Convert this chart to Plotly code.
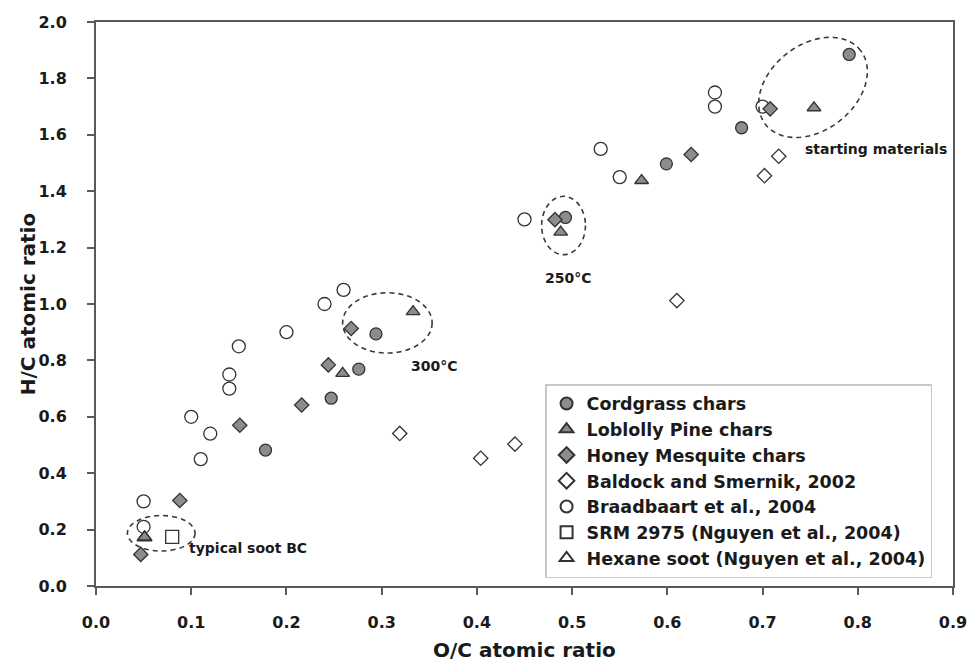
import numpy as np
import plotly.graph_objects as go

# ---------------- data ----------------
cord_x = [0.178, 0.247, 0.276, 0.294, 0.493, 0.599, 0.678, 0.791]
cord_y = [0.482, 0.666, 0.769, 0.894, 1.307, 1.497, 1.625, 1.885]

pine_x = [0.051, 0.259, 0.333, 0.488, 0.573, 0.754]
pine_y = [0.174, 0.754, 0.973, 1.255, 1.438, 1.696]

mesq_x = [0.047, 0.088, 0.151, 0.216, 0.244, 0.268, 0.482, 0.625, 0.708]
mesq_y = [0.112, 0.303, 0.570, 0.642, 0.784, 0.913, 1.299, 1.530, 1.692]

bald_x = [0.319, 0.404, 0.440, 0.610, 0.702, 0.717]
bald_y = [0.541, 0.453, 0.503, 1.012, 1.455, 1.524]

braad_x = [0.05, 0.05, 0.10, 0.11, 0.12, 0.14, 0.14, 0.15, 0.20, 0.24, 0.26,
           0.45, 0.53, 0.55, 0.65, 0.65, 0.70]
braad_y = [0.30, 0.21, 0.60, 0.45, 0.54, 0.70, 0.75, 0.85, 0.90, 1.00, 1.05,
           1.30, 1.55, 1.45, 1.75, 1.70, 1.70]

srm_x = [0.080]
srm_y = [0.174]

hex_x = [0.051]
hex_y = [0.172]

x_ticks = [0.0, 0.1, 0.2, 0.3, 0.4, 0.5, 0.6, 0.7, 0.8, 0.9]
y_ticks = [0.0, 0.2, 0.4, 0.6, 0.8, 1.0, 1.2, 1.4, 1.6, 1.8, 2.0]

# ---------------- style ----------------
FONT = "DejaVu Sans, Arial, sans-serif"
GRAY = "#8c8c8c"
EDGE = "#333333"
TXT = "#1a1a1a"

fig = go.Figure()

def add(name, xs, ys, symbol, size, fill, rank, lw=1.3):
    fig.add_trace(go.Scatter(
        x=xs, y=ys, mode="markers", name=name, legendrank=rank,
        marker=dict(symbol=symbol, size=size, color=fill,
                    line=dict(color=EDGE, width=lw)),
    ))

add("Braadbaart et al., 2004", braad_x, braad_y, "circle", 13, "white", 5)
add("Baldock and Smernik, 2002", bald_x, bald_y, "diamond", 11, "white", 4)
add("Cordgrass chars", cord_x, cord_y, "circle", 12, GRAY, 1)
add("Loblolly Pine chars", pine_x, pine_y, "triangle-up", 12, GRAY, 2)
add("Honey Mesquite chars", mesq_x, mesq_y, "diamond", 11, GRAY, 3)
add("SRM 2975 (Nguyen et al., 2004)", srm_x, srm_y, "square", 13, "white", 6)
fig.add_trace(go.Scatter(
    x=hex_x, y=hex_y, mode="markers", name="Hexane soot (Nguyen et al., 2004)",
    legendrank=7,
    marker=dict(symbol="triangle-up-open", size=13, color=EDGE,
                line=dict(color=EDGE, width=1.3)),
))

# ---------------- dashed ellipses ----------------
dash_line = dict(color="#3a3a3a", width=1.6, dash="5px,4px")
for (x0, x1, y0, y1) in [(0.033, 0.104, 0.124, 0.250),
                         (0.259, 0.353, 0.826, 1.040),
                         (0.468, 0.514, 1.175, 1.382)]:
    fig.add_shape(type="circle", xref="x", yref="y", x0=x0, x1=x1, y0=y0, y1=y1,
                  line=dash_line)

# tilted ellipse ("starting materials"), built in pixel-proportional units
px_per_x = 955.0   # pixels per unit of O/C
px_per_y = 281.5   # pixels per unit of H/C
cx, cy = 0.753, 1.768
a_px, b_px, theta = 60.3, 42.8, np.deg2rad(37.5)
t = np.linspace(0, 2 * np.pi, 121)
ex = a_px * np.cos(t) * np.cos(theta) - b_px * np.sin(t) * np.sin(theta)
ey = a_px * np.cos(t) * np.sin(theta) + b_px * np.sin(t) * np.cos(theta)
xs = cx + ex / px_per_x
ys = cy + ey / px_per_y
path = "M " + " L ".join(f"{x:.5f},{y:.5f}" for x, y in zip(xs, ys)) + " Z"
fig.add_shape(type="path", xref="x", yref="y", path=path, line=dash_line)

# ---------------- annotations ----------------
ann_font = dict(family=FONT, size=14, color=TXT, weight="bold")
fig.add_annotation(x=0.096, y=0.134, text="typical soot BC", showarrow=False,
                   xanchor="left", yanchor="middle", font=ann_font)
fig.add_annotation(x=0.355, y=0.780, text="300°C", showarrow=False,
                   xanchor="center", yanchor="middle", font=ann_font)
fig.add_annotation(x=0.496, y=1.092, text="250°C", showarrow=False,
                   xanchor="center", yanchor="middle", font=ann_font)
fig.add_annotation(x=0.819, y=1.548, text="starting materials", showarrow=False,
                   xanchor="center", yanchor="middle", font=ann_font)

# axis titles placed as paper annotations
title_font = dict(family=FONT, size=20, color=TXT, weight="bold")
fig.add_annotation(xref="paper", yref="paper", x=-0.079, y=0.5,
                   text="H/C atomic ratio", textangle=-90, showarrow=False,
                   xanchor="center", yanchor="middle", font=title_font)
fig.add_annotation(xref="paper", yref="paper", x=0.5, y=-0.1136,
                   text="O/C atomic ratio", showarrow=False,
                   xanchor="center", yanchor="middle", font=title_font)

axis_common = dict(
    showgrid=False, zeroline=False, showline=True, mirror=True,
    linecolor="#5a5a5a", linewidth=2,
    ticks="outside", ticklen=7, tickwidth=1.5, tickcolor="#5a5a5a",
    ticklabeloverflow="allow", automargin=False,
    tickfont=dict(family=FONT, size=16, color=TXT, weight="bold"),
)

fig.update_layout(
    width=968, height=661,
    margin=dict(l=96, r=15, t=22, b=75),
    paper_bgcolor="white", plot_bgcolor="white",
    xaxis=dict(range=[0, 0.9], tickvals=x_ticks,
               ticktext=[f"{v:.1f}" for v in x_ticks],
               ticklabelstandoff=14,
               **axis_common),
    yaxis=dict(range=[0, 2.0], tickvals=y_ticks,
               ticktext=[f"{v:.1f}" for v in y_ticks],
               ticklabelstandoff=17,
               **axis_common),
    legend=dict(x=0.524, y=0.358, xanchor="left", yanchor="top",
                bgcolor="white", bordercolor="#c8c8c8", borderwidth=1.5,
                font=dict(family=FONT, size=17.5, color=TXT, weight="bold"),
                itemsizing="constant"),
    showlegend=True,
)

fig.write_html("out.html")
